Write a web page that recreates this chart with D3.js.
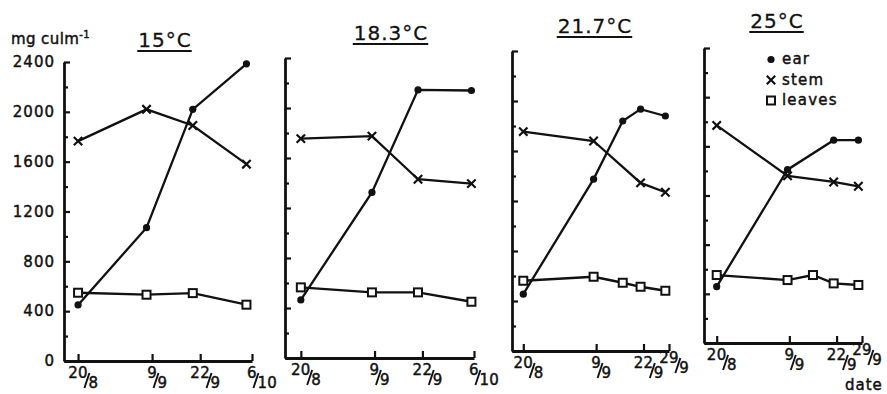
<!DOCTYPE html>
<html>
<head>
<meta charset="utf-8">
<script src="https://cdn.jsdelivr.net/npm/d3@7"></script>
<style>
  html, body { margin: 0; padding: 0; background: #fff; }
  svg { display: block; }
  text { font-family: "DejaVu Sans", sans-serif; fill: #111; stroke: #111; stroke-width: 0.45px; }
</style>
</head>
<body>
<svg id="chart" width="887" height="394"></svg>
<script>
// Dry matter per culm (mg) of ear, stem and leaves at four growth temperatures.
// Sampling dates are given as days after 20 August.
const panelTitles = ["15°C", "18.3°C", "21.7°C", "25°C"];
const sampleDays = [
  [0, 18.5, 31, 45.5],
  [0, 19.3, 31.8, 46.3],
  [0, 19.3, 27.3, 32.2, 39],
  [0, 19.5, 26.5, 32.2, 39]
];
const earValues = [
  [450, 1070, 2020, 2385],
  [465, 1325, 2145, 2140],
  [455, 1375, 1840, 1935, 1880],
  [458, 1410, null, 1650, 1650]
];
const stemValues = [
  [1765, 2020, 1890, 1580],
  [1755, 1775, 1430, 1395],
  [1755, 1680, null, 1345, 1270],
  [1770, 1360, null, 1310, 1275]
];
const leafValues = [
  [548, 532, 545, 452],
  [565, 525, 525, 450],
  [562, 594, 546, 514, 482],
  [553, 512, 553, 485, 472]
];
const tickDays = [[0, 20, 33, 47], [0, 20, 33, 47], [0, 20, 33, 40], [0, 20, 33, 40]];
const tickNumerators = [["20", "9", "22", "6"], ["20", "9", "22", "6"], ["20", "9", "22", "29"], ["20", "9", "22", "29"]];
const tickDenominators = [["8", "9", "9", "10"], ["8", "9", "9", "10"], ["8", "9", "9", "9"], ["8", "9", "9", "9"]];
const yMajorTicks = [0, 400, 800, 1200, 1600, 2000, 2400];
const yMinorTicks = [200, 600, 1000, 1400, 1800, 2200];
const legendLabels = ["ear", "stem", "leaves"];

// Frame of each small panel on the page
const frames = [
  { left: 64,  right: 252, top: 62, bottom: 361, dayStart: -3.8, titleX: 165, titleY: 47 },
  { left: 285, right: 474, top: 58, bottom: 358, dayStart: -4.3, titleX: 391, titleY: 40 },
  { left: 512, right: 669, top: 51, bottom: 351, dayStart: -3.1, titleX: 595, titleY: 33 },
  { left: 704, right: 862, top: 48, bottom: 343, dayStart: -3.5, titleX: 777, titleY: 28 }
];

const svg = d3.select("#chart");
svg.append("rect").attr("width", 887).attr("height", 394).attr("fill", "#fff");

const ink = "#111";

function drawMarker(g, kind, x, y) {
  if (kind === "ear") {
    g.append("circle").attr("cx", x).attr("cy", y).attr("r", 3.6).attr("fill", ink);
  } else if (kind === "stem") {
    const s = 4.2;
    g.append("path")
      .attr("d", `M${x - s},${y - s}L${x + s},${y + s}M${x - s},${y + s}L${x + s},${y - s}`)
      .attr("stroke", ink).attr("stroke-width", 2.2).attr("fill", "none");
  } else {
    g.append("rect").attr("x", x - 4).attr("y", y - 4).attr("width", 8).attr("height", 8)
      .attr("fill", "#fff").attr("stroke", ink).attr("stroke-width", 2);
  }
}

// A date written as a small stacked fraction: day over month
function drawDateLabel(g, cx, baseline, num, den) {
  const n = g.append("text").attr("x", cx).attr("y", baseline)
    .attr("text-anchor", "middle").style("font-size", "15px").attr("letter-spacing", "0.3px").text(num);
  const w = n.node().getComputedTextLength();
  const end = cx + w / 2;
  g.append("line")
    .attr("x1", end - 3.5).attr("y1", baseline + 10)
    .attr("x2", end + 1.5).attr("y2", baseline - 5)
    .attr("stroke", ink).attr("stroke-width", 1.9);
  g.append("text").attr("x", end + 0.5).attr("y", baseline + 10)
    .style("font-size", "15px").attr("letter-spacing", "0.3px").text(den);
}

panelTitles.forEach((title, i) => {
  const f = frames[i];
  const g = svg.append("g");
  const x = d3.scaleLinear()
    .domain([f.dayStart, tickDays[i][tickDays[i].length - 1]])
    .range([f.left, f.right]);
  const y = d3.scaleLinear().domain([0, 2400]).range([f.bottom, f.top]);

  // y axis: ticks point inward, numbers only on the first panel
  const yMajor = d3.axisLeft(y).tickValues(yMajorTicks)
    .tickSizeInner(-6).tickSizeOuter(0).tickPadding(9)
    .tickFormat(i === 0 ? d3.format("d") : () => "");
  const ya = g.append("g").attr("transform", `translate(${f.left},0)`).call(yMajor);
  g.append("g").attr("transform", `translate(${f.left},0)`)
    .call(d3.axisLeft(y).tickValues(yMinorTicks).tickSizeInner(-4).tickSizeOuter(0).tickFormat(() => ""))
    .select(".domain").remove();

  // x axis with upward ticks at the labelled dates
  g.append("g").attr("transform", `translate(0,${f.bottom})`)
    .call(d3.axisBottom(x).tickValues(tickDays[i]).tickSizeInner(-7).tickSizeOuter(0).tickFormat(() => ""));

  g.selectAll(".domain").attr("stroke", ink).attr("stroke-width", 2.8);
  g.selectAll(".tick line").attr("stroke", ink).attr("stroke-width", 2.2);
  ya.selectAll(".tick text").style("font-family", "DejaVu Sans").style("font-size", "15px")
    .attr("fill", ink).attr("letter-spacing", "1px");

  // date labels; a label crowded against its neighbour is lifted a little
  tickDays[i].forEach((d, k) => {
    const crowded = k > 0 && x(d) - x(tickDays[i][k - 1]) < 32;
    drawDateLabel(g, x(d), f.bottom + (crowded ? 12 : 17), tickNumerators[i][k], tickDenominators[i][k]);
  });

  // panel title, underlined
  const tt = g.append("text").attr("x", f.titleX).attr("y", f.titleY)
    .attr("text-anchor", "middle").style("font-size", "20px").attr("letter-spacing", "1px")
    .style("stroke-width", "0.3px").text(title);
  const tw = tt.node().getComputedTextLength();
  g.append("line").attr("x1", f.titleX - tw / 2 - 1).attr("x2", f.titleX + tw / 2)
    .attr("y1", f.titleY + 4).attr("y2", f.titleY + 4).attr("stroke", ink).attr("stroke-width", 2);

  // series
  const series = [
    { kind: "ear", values: earValues[i] },
    { kind: "stem", values: stemValues[i] },
    { kind: "leaves", values: leafValues[i] }
  ];
  const line = d3.line().x(p => x(p.day)).y(p => y(p.v));
  series.forEach(s => {
    const pts = sampleDays[i].map((day, k) => ({ day, v: s.values[k] })).filter(p => p.v != null);
    g.append("path").datum(pts).attr("d", line)
      .attr("fill", "none").attr("stroke", ink).attr("stroke-width", 2.3);
  });
  series.forEach(s => {
    sampleDays[i].forEach((day, k) => {
      if (s.values[k] != null) drawMarker(g, s.kind, x(day), y(s.values[k]));
    });
  });
});

// y-axis unit
const unit = svg.append("text").attr("x", 11).attr("y", 44).style("font-size", "15px").attr("letter-spacing", "0.4px");
unit.append("tspan").text("mg culm");
unit.append("tspan").attr("dy", -6).style("font-size", "10px").text("-1");

// legend inside the last panel
const legend = svg.append("g");
legendLabels.forEach((lab, k) => {
  const ly = 64 + k * 20.5;
  drawMarker(legend, lab, 771, ly - 4.5);
  legend.append("text").attr("x", 782).attr("y", ly).style("font-size", "15px")
    .attr("letter-spacing", "1.2px").text(lab);
});

svg.append("text").attr("x", 845).attr("y", 390).style("font-size", "15px").attr("letter-spacing", "1px").text("date");
</script>
</body>
</html>
